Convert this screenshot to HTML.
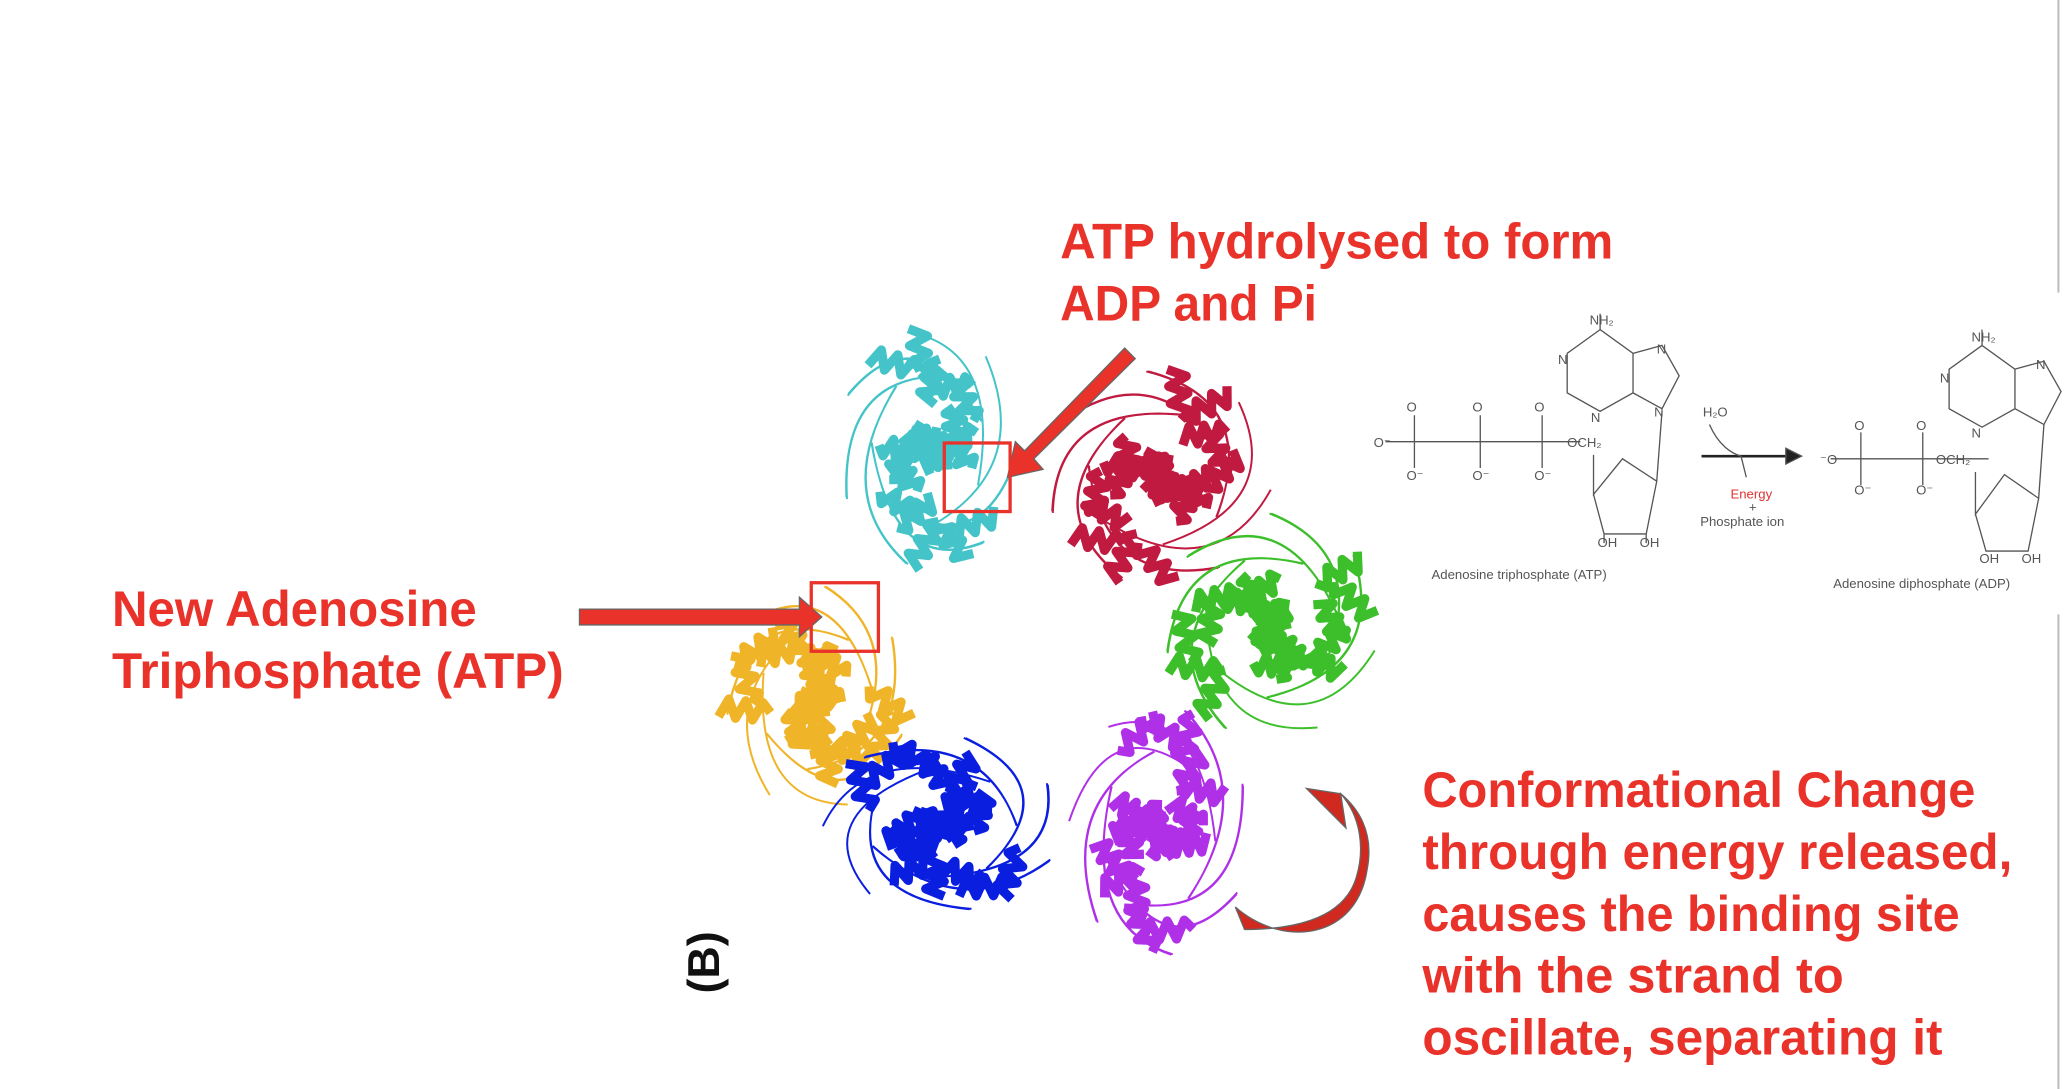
<!DOCTYPE html>
<html><head><meta charset="utf-8"><style>
html,body{margin:0;padding:0;background:#fff;}
#fig{display:block;width:2065px;height:1089px;}
.lab{font-family:"Liberation Sans",sans-serif;font-weight:bold;fill:#e8322a;font-size:38px;}
.chem{font-family:"Liberation Sans",sans-serif;fill:#555;font-size:10px;}
</style></head><body>
<svg id="fig" viewBox="0 0 1568 826" preserveAspectRatio="none" xmlns="http://www.w3.org/2000/svg">
<rect width="1568" height="826" fill="#fff"/>
<line x1="1563" y1="0" x2="1563" y2="222" stroke="#bbb" stroke-width="1.5"/>
<line x1="1563" y1="466" x2="1563" y2="826" stroke="#bbb" stroke-width="1.5"/>
<g id="protein"></g>

<text class="lab" x="805" y="196" textLength="420" lengthAdjust="spacingAndGlyphs">ATP hydrolysed to form</text>
<text class="lab" x="805" y="243" textLength="195" lengthAdjust="spacingAndGlyphs">ADP and Pi</text>
<text class="lab" x="85" y="475" textLength="277" lengthAdjust="spacingAndGlyphs">New Adenosine</text>
<text class="lab" x="85" y="522" textLength="343" lengthAdjust="spacingAndGlyphs">Triphosphate (ATP)</text>
<g>
<text class="lab" x="1080" y="612" textLength="420" lengthAdjust="spacingAndGlyphs">Conformational Change</text>
<text class="lab" x="1080" y="659" textLength="448" lengthAdjust="spacingAndGlyphs">through energy released,</text>
<text class="lab" x="1080" y="706" textLength="408" lengthAdjust="spacingAndGlyphs">causes the binding site</text>
<text class="lab" x="1080" y="753" textLength="320" lengthAdjust="spacingAndGlyphs">with the strand to</text>
<text class="lab" x="1080" y="800" textLength="395" lengthAdjust="spacingAndGlyphs">oscillate, separating it</text>
</g>
<text x="0" y="0" transform="translate(546,730) rotate(-90)" text-anchor="middle" font-family="Liberation Sans,sans-serif" font-weight="bold" font-size="34" fill="#111">(B)</text>

<polygon points="854,264 862,272 785,348 792,356 765,362 771,335 778,342" fill="#e8322a" stroke="#666" stroke-width="1"/>
<polygon points="440,462 607,462 607,453 624,468 607,483 607,474 440,474" fill="#e8322a" stroke="#666" stroke-width="1"/>
<rect x="717" y="336" width="50" height="52" fill="none" stroke="#e8322a" stroke-width="2.5"/>
<rect x="616" y="442" width="51" height="52" fill="none" stroke="#e8322a" stroke-width="2.5"/>
<path d="M938,688 C975,720 1030,712 1038,660 C1044,630 1030,612 1018,602 L1022,628 L992,598 L1018,602 C1034,620 1036,645 1030,665 C1020,700 975,705 945,705 Z" fill="#d0291f" stroke="#666" stroke-width="1"/>

<g stroke="#555" stroke-width="1" fill="none">
<path d="M1052,335 H1200 M1074,315 V355 M1124,315 V355 M1171,315 V355"/>
<path d="M1210,345 L1210,375 L1232,348 L1258,365 L1262,312 M1210,375 L1218,405 L1250,405 L1258,365 M1218,405 V412 M1250,405 V412"/>
<path d="M1215,250 L1190,268 V298 L1215,312 L1240,298 V268 Z M1240,268 L1262,262 L1275,285 L1262,310 L1240,298 M1215,250 V238"/>
<path d="M1292,346 H1360" stroke="#222" stroke-width="2"/><polygon points="1356,340 1368,346 1356,352" fill="#222"/>
<path d="M1298,322 C1305,338 1315,344 1322,346 L1326,362"/>
<path d="M1390,348 H1510 M1413,328 V368 M1460,328 V368"/>
<path d="M1500,358 L1500,390 L1522,360 L1548,378 L1552,322 M1500,390 L1508,418 L1540,418 L1548,378"/>
<path d="M1505,262 L1480,280 V310 L1505,324 L1530,310 V280 Z M1530,280 L1552,274 L1565,297 L1552,322 L1530,310 M1505,262 V250"/>
</g>
<g class="chem">
<text x="1043" y="339">O⁻</text><text x="1068" y="312">O</text><text x="1068" y="364">O⁻</text>
<text x="1118" y="312">O</text><text x="1118" y="364">O⁻</text><text x="1165" y="312">O</text><text x="1165" y="364">O⁻</text>
<text x="1190" y="339">OCH₂</text><text x="1207" y="246">NH₂</text><text x="1183" y="276">N</text><text x="1208" y="320">N</text><text x="1258" y="268">N</text><text x="1256" y="316">N</text>
<text x="1213" y="415">OH</text><text x="1245" y="415">OH</text>
<text x="1087" y="439">Adenosine triphosphate (ATP)</text>
<text x="1293" y="316">H₂O</text><text x="1314" y="378" fill="#d33">Energy</text><text x="1328" y="388">+</text><text x="1291" y="399">Phosphate ion</text>
<text x="1382" y="352">⁻O</text><text x="1408" y="326">O</text><text x="1408" y="375">O⁻</text><text x="1455" y="326">O</text><text x="1455" y="375">O⁻</text>
<text x="1470" y="352">OCH₂</text><text x="1497" y="259">NH₂</text><text x="1473" y="290">N</text><text x="1497" y="332">N</text><text x="1546" y="280">N</text>
<text x="1503" y="427">OH</text><text x="1535" y="427">OH</text>
<text x="1392" y="446">Adenosine diphosphate (ADP)</text>
</g>
</svg>
<script>
const clusterNames=['cyan','crimson','green','yellow','blue','purple'];
const clusterColors=['#44c4c8','#c01a40','#3cbf2a','#f0b429','#0a1ee0','#b030e8'];
const clusterCx=[705,880,965,620,715,880];
const clusterCy=[340,362,475,530,625,630];
const clusterRx=[72,90,85,72,95,72];
const clusterRy=[95,85,90,90,70,100];
const g=document.getElementById('protein');
const NS='http://www.w3.org/2000/svg';
for(let c=0;c<clusterNames.length;c++){
  const grp=document.createElementNS(NS,'g');
  
  
  const col=clusterColors[c];
  let d='';
  for(let i=0;i<12;i++){
    const a=i*0.9+c;
    const x=clusterCx[c]+Math.cos(a)*clusterRx[c]*0.95, y=clusterCy[c]+Math.sin(a)*clusterRy[c]*0.95;
    const x2=clusterCx[c]+Math.cos(a+2.3)*clusterRx[c]*0.6, y2=clusterCy[c]+Math.sin(a+2.3)*clusterRy[c]*0.6;
    d+=`M${x},${y} Q${clusterCx[c]+Math.cos(a+1)*clusterRx[c]*1.1},${clusterCy[c]+Math.sin(a+1)*clusterRy[c]*1.1} ${x2},${y2} `;
  }
  const loops=document.createElementNS(NS,'path');
  loops.setAttribute('d',d);loops.setAttribute('fill','none');loops.setAttribute('stroke',col);loops.setAttribute('stroke-width','1.5');
  
  
  grp.appendChild(loops);
  for(let h=0;h<22;h++){
    const a=h*2.4+c*0.7, r=(h%4+0.5)/4.6;
    const ang=a*1.7, len=24+(h%4)*5;
    const x0=clusterCx[c]+Math.cos(a)*clusterRx[c]*r-Math.cos(ang)*len/2;
    const y0=clusterCy[c]+Math.sin(a)*clusterRy[c]*r-Math.sin(ang)*len/2;
    let pd=`M${x0},${y0}`;
    for(let k=1;k<=6;k++){
      const t=k/6*len, off=(k%2?7:-7);
      pd+=` L${x0+Math.cos(ang)*t-Math.sin(ang)*off},${y0+Math.sin(ang)*t+Math.cos(ang)*off}`;
    }
    const hp=document.createElementNS(NS,'path');
    hp.setAttribute('d',pd);hp.setAttribute('fill','none');hp.setAttribute('stroke',col);hp.setAttribute('stroke-width','7');hp.setAttribute('stroke-linejoin','round');
    
    
    grp.appendChild(hp);
  }
  g.appendChild(grp);
}
</script>
</body></html>
